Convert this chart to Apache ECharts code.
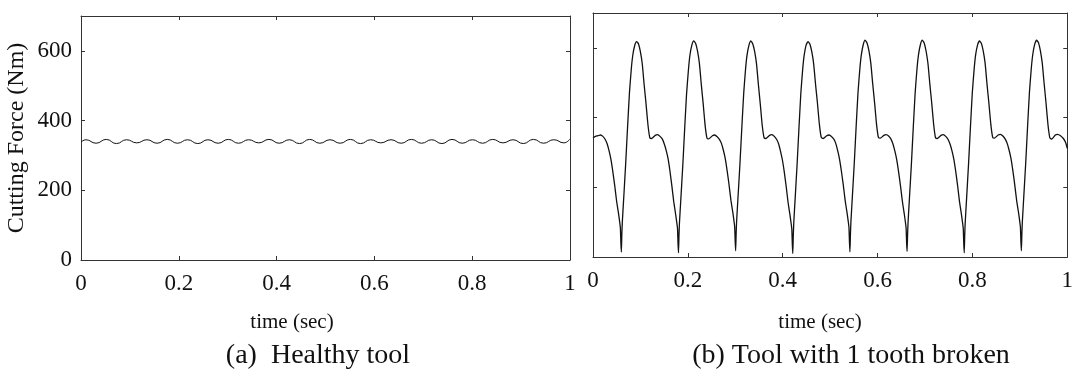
<!DOCTYPE html>
<html><head><meta charset="utf-8">
<script src="https://cdn.jsdelivr.net/npm/echarts@6/dist/echarts.min.js"></script>
<style>html,body{margin:0;padding:0;background:#fff}#c{width:1076px;height:379px}</style>
</head><body><div id="c"></div>
<script>
// ---- data ----
const xTickLabels = ['0', '0.2', '0.4', '0.6', '0.8', '1'];
const yTickLabels = ['0', '200', '400', '600'];
const yAxisTitle = 'Cutting Force (Nm)';
const xAxisTitle = 'time (sec)';
const captionA = '(a)  Healthy tool';
const captionB = '(b) Tool with 1 tooth broken';

const healthyTime = [0, 0.0100, 0.0308, 0.0516, 0.0724, 0.0932, 0.1140, 0.1348, 0.1556, 0.1764, 0.1972,
  0.2180, 0.2388, 0.2596, 0.2804, 0.3012, 0.3220, 0.3428, 0.3636, 0.3844, 0.4052, 0.4260, 0.4468,
  0.4676, 0.4884, 0.5092, 0.5300, 0.5508, 0.5716, 0.5924, 0.6132, 0.6340, 0.6548, 0.6756, 0.6964,
  0.7172, 0.7380, 0.7588, 0.7796, 0.8004, 0.8212, 0.8420, 0.8628, 0.8836, 0.9044, 0.9252, 0.9460,
  0.9668, 0.9876, 1.0];
const healthyForce = [338, 345, 335, 346, 334, 345, 336, 345, 335, 346, 335,
  345, 334, 345, 335, 346, 335, 345, 336, 346, 335, 345, 334,
  346, 335, 345, 335, 346, 334, 345, 336, 345, 335, 346, 335,
  345, 334, 346, 335, 345, 335, 346, 336, 345, 334, 346, 335,
  345, 336, 347];

const brokenTime = [0, 0.005,
  0.0108, 0.0158, 0.0208, 0.0258, 0.0298, 0.0338, 0.0378, 0.0418, 0.0458, 0.0498, 0.0538, 0.0568, 0.0578, 0.0588, 0.0598, 0.0608, 0.0618, 0.0648, 0.0688, 0.0728, 0.0768, 0.0808, 0.0838, 0.0878, 0.0918, 0.0958, 0.0998, 0.1038, 0.1078, 0.1118, 0.1158, 0.1198, 0.1238,
  0.1313, 0.1363, 0.1413, 0.1463, 0.1503, 0.1543, 0.1583, 0.1623, 0.1663, 0.1703, 0.1743, 0.1773, 0.1783, 0.1793, 0.1803, 0.1813, 0.1823, 0.1853, 0.1893, 0.1933, 0.1973, 0.2013, 0.2043, 0.2083, 0.2123, 0.2163, 0.2203, 0.2243, 0.2283, 0.2323, 0.2363, 0.2403, 0.2443,
  0.2518, 0.2568, 0.2618, 0.2668, 0.2708, 0.2748, 0.2788, 0.2828, 0.2868, 0.2908, 0.2948, 0.2978, 0.2988, 0.2998, 0.3008, 0.3018, 0.3028, 0.3058, 0.3098, 0.3138, 0.3178, 0.3218, 0.3248, 0.3288, 0.3328, 0.3368, 0.3408, 0.3448, 0.3488, 0.3528, 0.3568, 0.3608, 0.3648,
  0.3723, 0.3773, 0.3823, 0.3873, 0.3913, 0.3953, 0.3993, 0.4033, 0.4073, 0.4113, 0.4153, 0.4183, 0.4193, 0.4203, 0.4213, 0.4223, 0.4233, 0.4263, 0.4303, 0.4343, 0.4383, 0.4423, 0.4453, 0.4493, 0.4533, 0.4573, 0.4613, 0.4653, 0.4693, 0.4733, 0.4773, 0.4813, 0.4853,
  0.4928, 0.4978, 0.5028, 0.5078, 0.5118, 0.5158, 0.5198, 0.5238, 0.5278, 0.5318, 0.5358, 0.5388, 0.5398, 0.5408, 0.5418, 0.5428, 0.5438, 0.5468, 0.5508, 0.5548, 0.5588, 0.5628, 0.5658, 0.5698, 0.5738, 0.5778, 0.5818, 0.5858, 0.5898, 0.5938, 0.5978, 0.6018, 0.6058,
  0.6133, 0.6183, 0.6233, 0.6283, 0.6323, 0.6363, 0.6403, 0.6443, 0.6483, 0.6523, 0.6563, 0.6593, 0.6603, 0.6613, 0.6623, 0.6633, 0.6643, 0.6673, 0.6713, 0.6753, 0.6793, 0.6833, 0.6863, 0.6903, 0.6943, 0.6983, 0.7023, 0.7063, 0.7103, 0.7143, 0.7183, 0.7223, 0.7263,
  0.7338, 0.7388, 0.7438, 0.7488, 0.7528, 0.7568, 0.7608, 0.7648, 0.7688, 0.7728, 0.7768, 0.7798, 0.7808, 0.7818, 0.7828, 0.7838, 0.7848, 0.7878, 0.7918, 0.7958, 0.7998, 0.8038, 0.8068, 0.8108, 0.8148, 0.8188, 0.8228, 0.8268, 0.8308, 0.8348, 0.8388, 0.8428, 0.8468,
  0.8543, 0.8593, 0.8643, 0.8693, 0.8733, 0.8773, 0.8813, 0.8853, 0.8893, 0.8933, 0.8973, 0.9003, 0.9013, 0.9023, 0.9033, 0.9043, 0.9053, 0.9083, 0.9123, 0.9163, 0.9203, 0.9243, 0.9273, 0.9313, 0.9353, 0.9393, 0.9433, 0.9473, 0.9513, 0.9553, 0.9593, 0.9633, 0.9673,
  0.9748, 0.9798, 0.9858, 0.9918, 0.9968, 1.0];
const brokenForce = [342, 346,
  348, 350, 346, 337, 325, 305, 280, 245, 205, 160, 125, 95, 82, 40, 14, 65, 100, 170, 265, 370, 470, 540, 578, 606, 618, 612, 590, 555, 495, 440, 380, 342, 340,
  349, 351, 346, 338, 324, 306, 282, 246, 204, 158, 122, 92, 80, 38, 12, 62, 98, 168, 262, 368, 468, 538, 578, 607, 620, 613, 591, 556, 496, 440, 379, 341, 339,
  348, 350, 345, 337, 326, 307, 283, 248, 208, 163, 128, 98, 85, 45, 18, 66, 102, 172, 266, 371, 470, 541, 579, 607, 620, 612, 590, 554, 494, 438, 378, 342, 340,
  349, 351, 346, 337, 325, 304, 279, 244, 203, 157, 121, 91, 78, 36, 10, 60, 97, 169, 264, 370, 471, 541, 579, 608, 618, 611, 589, 554, 495, 441, 381, 343, 340,
  348, 350, 346, 338, 326, 306, 281, 246, 206, 161, 126, 96, 83, 42, 15, 64, 100, 171, 266, 372, 472, 542, 580, 609, 622, 614, 592, 556, 497, 442, 381, 343, 341,
  349, 351, 347, 338, 325, 305, 280, 245, 205, 160, 124, 94, 81, 40, 16, 63, 99, 170, 265, 371, 471, 542, 580, 609, 622, 614, 591, 555, 496, 441, 380, 342, 340,
  349, 351, 346, 337, 324, 305, 281, 246, 205, 159, 123, 93, 80, 38, 12, 62, 98, 169, 265, 371, 471, 541, 580, 608, 620, 613, 591, 556, 496, 441, 381, 343, 341,
  350, 352, 347, 338, 326, 307, 283, 248, 207, 162, 127, 97, 84, 44, 18, 66, 101, 172, 267, 373, 473, 543, 581, 610, 622, 615, 592, 556, 497, 441, 380, 342, 338,
  350, 352, 348, 340, 328, 312];

// ---- chart ----
const FONT = '"Liberation Serif","DejaVu Serif","Times New Roman",serif';
const AX = '#333';
const INK = '#111';

function xAxisFor(gi, pos, withLabels) {
  return {
    type: 'value', gridIndex: gi, position: pos, min: 0, max: 1, interval: 0.2,
    axisLine: { show: true, onZero: false, lineStyle: { color: AX, width: 1 } },
    axisTick: { show: true, inside: true, length: 4, lineStyle: { color: AX } },
    axisLabel: {
      show: withLabels, margin: 12, fontFamily: FONT, fontSize: 23, color: INK,
      formatter: v => { const i = Math.round(v / 0.2); return Math.abs(i * 0.2 - v) < 1e-6 ? xTickLabels[i] : ''; }
    },
    splitLine: { show: false }
  };
}
function yAxisFor(gi, pos, withLabels, name) {
  return {
    type: 'value', gridIndex: gi, position: pos, min: 0, max: 700, interval: 200,
    name: name || '', nameLocation: 'middle', nameGap: 52,
    nameTextStyle: { fontFamily: FONT, fontSize: 24, color: INK },
    axisLine: { show: true, onZero: false, lineStyle: { color: AX, width: 1 } },
    axisTick: { show: true, inside: true, length: 4, lineStyle: { color: AX } },
    axisLabel: {
      show: withLabels, margin: 9, fontFamily: FONT, fontSize: 23, color: INK,
      formatter: v => { const i = Math.round(v / 200); return (i * 200 === v && yTickLabels[i] !== undefined) ? yTickLabels[i] : ''; }
    },
    splitLine: { show: false }
  };
}

const chart = echarts.init(document.getElementById('c'), null, { renderer: 'canvas' });
chart.setOption({
  animation: false,
  backgroundColor: '#fff',
  grid: [
    { left: 81, top: 16, width: 489, height: 244 },
    { left: 593, top: 13, width: 480, height: 244 }
  ],
  xAxis: [xAxisFor(0, 'bottom', true), xAxisFor(0, 'top', false), xAxisFor(1, 'bottom', true), xAxisFor(1, 'top', false)],
  yAxis: [yAxisFor(0, 'left', true, yAxisTitle), yAxisFor(0, 'right', false), yAxisFor(1, 'left', false), yAxisFor(1, 'right', false)],
  series: [
    { type: 'line', xAxisIndex: 0, yAxisIndex: 0, showSymbol: false, smooth: 0.5,
      lineStyle: { color: INK, width: 1 },
      data: healthyTime.map((t, i) => [t, healthyForce[i]]) },
    { type: 'line', xAxisIndex: 2, yAxisIndex: 2, showSymbol: false, smooth: 0.15,
      lineStyle: { color: INK, width: 1.3 },
      data: brokenTime.map((t, i) => [t, brokenForce[i]]) }
  ],
  graphic: [
    { type: 'text', x: 292, y: 322, style: { text: xAxisTitle, font: '21px ' + FONT, fill: INK, textAlign: 'center', textVerticalAlign: 'middle' } },
    { type: 'text', x: 820, y: 322, style: { text: xAxisTitle, font: '21px ' + FONT, fill: INK, textAlign: 'center', textVerticalAlign: 'middle' } },
    { type: 'text', x: 318, y: 356, style: { text: captionA, font: '28px ' + FONT, fill: INK, textAlign: 'center', textVerticalAlign: 'middle' } },
    { type: 'text', x: 851, y: 356, style: { text: captionB, font: '28px ' + FONT, fill: INK, textAlign: 'center', textVerticalAlign: 'middle' } }
  ]
});
</script>
</body></html>
